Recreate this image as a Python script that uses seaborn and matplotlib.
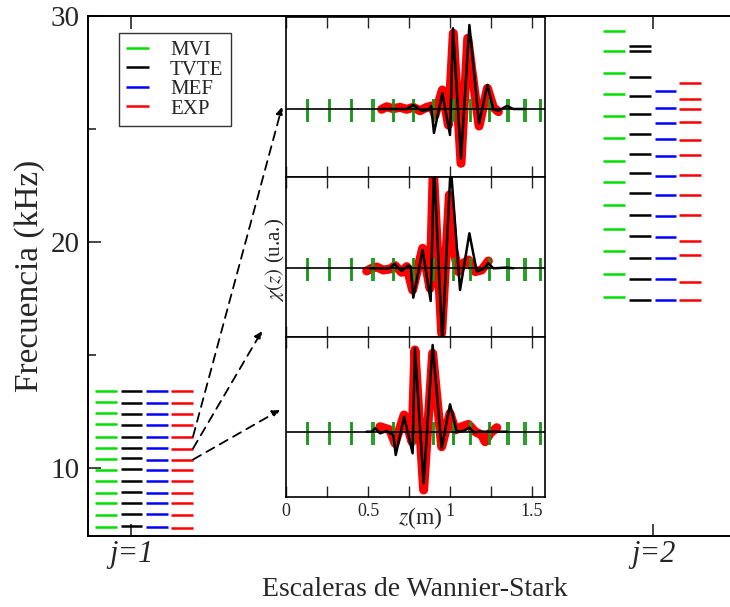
import matplotlib
matplotlib.use("Agg")
import numpy as np
import pandas as pd
import matplotlib.pyplot as plt
import seaborn as sns
from matplotlib.ticker import FixedLocator, NullLocator

# niveles de frecuencia (kHz) - escalera j=1
mvi_j1 = [13.40, 12.94, 12.43, 11.96, 11.40, 10.91, 10.40, 9.92, 9.44, 8.92, 8.45, 7.92, 7.42]
tvte_j1 = [13.42, 12.88, 12.40, 11.90, 11.40, 10.91, 10.43, 9.96, 9.44, 8.95, 8.48, 7.98, 7.45]
mef_j1 = [13.42, 12.88, 12.39, 11.90, 11.36, 10.90, 10.38, 9.91, 9.42, 8.92, 8.45, 7.98, 7.40]
exp_j1 = [13.42, 12.88, 12.39, 11.90, 11.40, 10.87, 10.38, 9.91, 9.42, 8.92, 8.45, 7.95, 7.36]

# escalera j=2
mvi_j2 = [29.35, 28.44, 27.46, 26.54, 25.56, 24.59, 23.60, 22.64, 21.62, 20.60, 19.59, 18.57, 17.55]
tvte_j2 = [28.66, 28.46, 27.29, 26.45, 25.65, 24.77, 23.91, 23.04, 22.15, 21.18, 20.25, 19.28, 18.35, 17.42]
mef_j2 = [26.67, 25.92, 25.25, 24.54, 23.79, 22.91, 22.07, 21.14, 20.21, 19.28, 18.35, 17.42]
exp_j2 = [27.02, 26.31, 25.87, 25.30, 24.50, 23.84, 22.96, 22.07, 21.18, 20.03, 19.41, 18.22, 17.42]

series_names = ["MVI", "TVTE", "MEF", "EXP"]
xtick_labels = ["j=1", "j=2"]

# posiciones de los resonadores (m)
resonadores = [0.132, 0.264, 0.398, 0.530, 0.654, 0.778, 0.898, 1.020, 1.126, 1.240, 1.352, 1.457, 1.551]

# funciones de onda chi(z), tres modos (u.a.)
z_teo_1 = [0.573, 0.736, 0.776, 0.827, 0.868, 0.885, 0.902, 0.953, 1.000, 1.018, 1.067, 1.118, 1.177, 1.228, 1.264, 1.295, 1.346, 1.386, 1.457]
chi_teo_1 = [0, 0, 4, -1.7, -1, 3, -24, 15.7, -26, 80.7, -49.3, 84, -14.3, 24, -0.3, -1.7, 3, 0, 0]
z_exp_1 = [0.583, 0.614, 0.654, 0.695, 0.736, 0.776, 0.817, 0.858, 0.888, 0.909, 0.953, 0.990, 1.020, 1.067, 1.108, 1.177, 1.228, 1.264, 1.295]
chi_exp_1 = [-0.3, 2.3, 0.3, 1.7, -0.3, 1.7, -1.7, 1.7, 3, -6, 19, -16, 75.7, -54.3, 70.7, -17, 20.7, 1.7, -2.7]

z_teo_2 = [0.512, 0.634, 0.661, 0.705, 0.746, 0.760, 0.776, 0.833, 0.882, 0.902, 0.953, 1.004, 1.061, 1.118, 1.163, 1.203, 1.234, 1.264, 1.346, 1.386]
chi_teo_2 = [0, 0, 4.3, -2.7, 2.7, 1.7, -29.4, 18.3, -32.7, 103, -73.4, 103, -21.7, 35, -3.3, -0.7, 5, 0, 0.7, 0]
z_exp_2 = [0.492, 0.522, 0.553, 0.593, 0.634, 0.665, 0.705, 0.736, 0.772, 0.833, 0.878, 0.898, 0.949, 0.996, 1.020, 1.051, 1.081, 1.112, 1.153, 1.193, 1.234]
chi_exp_2 = [-2.7, 0, 1.3, -1.7, -0.7, 2.7, -4, 1.7, -21.7, 20, -20, 100, -65, 73.3, 20, -3.3, 5, 8.3, -3.3, -1.7, 7.3]

z_teo_3 = [0.492, 0.522, 0.543, 0.573, 0.614, 0.654, 0.669, 0.720, 0.772, 0.786, 0.839, 0.894, 0.949, 1.000, 1.041, 1.081, 1.118, 1.146, 1.183, 1.346]
chi_teo_3 = [0, 0, 3.4, -1.6, 0.7, -3.3, -23.3, 15, -21.6, 83.4, -51.6, 86.7, -16.6, 27.4, 0, 0.7, 4, -0.6, 0, 0]
z_exp_3 = [0.573, 0.604, 0.634, 0.665, 0.720, 0.768, 0.786, 0.839, 0.894, 0.949, 1.000, 1.031, 1.071, 1.112, 1.153, 1.193, 1.214, 1.244, 1.285]
chi_exp_3 = [5, 3.4, 1.7, -11.6, 16.7, -10, 81.7, -58.3, 78.4, -15, 18.4, 1.7, 5, 7.3, 0, -3.3, -10, -1.7, 4]

inset_ticks = [0, 0.5, 1, 1.5]
inset_tick_labels = ["0", "0.5", "1", "1.5"]

sns.set_theme(style="ticks")
plt.rcParams["font.family"] = ["Liberation Serif", "DejaVu Serif"]
plt.rcParams["mathtext.fontset"] = "stix"

colors = ["#00e000", "black", "#0000ff", "#ff0000"]
off_j1 = [-0.049, 0.0, 0.049, 0.097]
off_j2 = [-0.074, -0.025, 0.024, 0.071]
hw = 0.021

fig = plt.figure(figsize=(7.3, 6.07), dpi=100)
ax = fig.add_axes([88 / 730, 71 / 607, 672 / 730, 520 / 607])

j1 = [mvi_j1, tvte_j1, mef_j1, exp_j1]
j2 = [mvi_j2, tvte_j2, mef_j2, exp_j2]
for k in range(4):
    ax.hlines(j1[k], 1 + off_j1[k] - hw, 1 + off_j1[k] + hw, color=colors[k], lw=1.8, label=series_names[k])
    ax.hlines(j2[k], 2 + off_j2[k] - hw, 2 + off_j2[k] + hw, color=colors[k], lw=1.8)

ax.set_xlim(0.9166, 1 + (760 - 131.5) / 521.5)
ax.set_ylim(7, 30)
ax.xaxis.set_major_locator(FixedLocator([1, 2]))
ax.set_xticklabels(xtick_labels, fontstyle="italic", fontsize=22)
ax.yaxis.set_major_locator(FixedLocator([10, 20, 30]))
ax.yaxis.set_minor_locator(FixedLocator([15, 25]))
ax.tick_params(axis="both", which="both", direction="in", top=True, right=False, width=1.2)
ax.tick_params(axis="both", which="major", length=9)
ax.tick_params(axis="both", which="minor", length=6)
ax.tick_params(axis="y", labelsize=21, pad=6)
ax.tick_params(axis="x", pad=3)
for s in ax.spines.values():
    s.set_linewidth(1.4)
    s.set_color("black")
ax.set_ylabel("Frecuencia (kHz)", fontsize=24, labelpad=4)
ax.set_xlabel("Escaleras de Wannier-Stark", fontsize=20)
ax.xaxis.set_label_coords((415 - 88) / 672, -0.079)

leg = ax.legend(loc="upper left", bbox_to_anchor=(0.046, 0.967), borderaxespad=0,
                fontsize=15, frameon=True, fancybox=False, edgecolor="black",
                handlelength=1.1, handletextpad=1.0, labelspacing=0.0, borderpad=0.35)
leg.get_frame().set_linewidth(1.0)

# flechas desde los niveles EXP hasta los paneles
heads = [(282 / 730, 1 - 107 / 607), (262 / 730, 1 - 331 / 607), (280 / 730, 1 - 410 / 607)]
for idx, head in zip([4, 5, 6], heads):
    ax.annotate("", xy=head, xycoords="figure fraction",
                xytext=(1 + off_j1[3] + hw, exp_j1[idx]), textcoords="data",
                arrowprops=dict(arrowstyle="-|>", linestyle=(0, (5, 3.5)), lw=1.3,
                                color="black", mutation_scale=11, shrinkA=0, shrinkB=0))

# paneles con las funciones de onda
teo = [(z_teo_1, chi_teo_1), (z_teo_2, chi_teo_2), (z_teo_3, chi_teo_3)]
exp = [(z_exp_1, chi_exp_1), (z_exp_2, chi_exp_2), (z_exp_3, chi_exp_3)]
ylims = [(-68, 92), (-68.7, 91.3), (-65.3, 94.7)]
bottoms = [430, 270, 110]
for i in range(3):
    axp = fig.add_axes([286 / 730, bottoms[i] / 607, 259 / 730, 160 / 607])
    axp.set_facecolor("white")
    df_exp = pd.DataFrame({"z": exp[i][0], "chi": exp[i][1]})
    df_teo = pd.DataFrame({"z": teo[i][0], "chi": teo[i][1]})
    sns.lineplot(data=df_exp, x="z", y="chi", ax=axp, color="red", lw=6.5,
                 sort=False, estimator=None, solid_joinstyle="round", solid_capstyle="round", zorder=1)
    for p in resonadores:
        axp.vlines([p - 0.0045, p + 0.0045], -13, 10, color="#169616", lw=1.3, zorder=2)
    axp.axhline(0, color="black", lw=1.2, zorder=3)
    sns.lineplot(data=df_teo, x="z", y="chi", ax=axp, color="black", lw=1.8,
                 sort=False, estimator=None, zorder=4)
    axp.set_xlim(0, 1.579)
    axp.set_ylim(*ylims[i])
    axp.set_xlabel("")
    axp.set_ylabel("")
    axp.xaxis.set_major_locator(FixedLocator(inset_ticks))
    axp.xaxis.set_minor_locator(FixedLocator([0.25, 0.75, 1.25]))
    axp.yaxis.set_major_locator(NullLocator())
    axp.tick_params(axis="x", which="both", direction="in", top=True, bottom=True,
                    length=8, width=1.0, labelsize=13, pad=4)
    for s in axp.spines.values():
        s.set_linewidth(1.2)
        s.set_color("black")
    if i < 2:
        axp.tick_params(axis="x", labelbottom=False)
    else:
        axp.set_xticklabels(inset_tick_labels)

fig.text(420 / 730, 1 - 518 / 607, r"$z$(m)", ha="center", va="center", fontsize=17)
fig.text(275 / 730, 1 - 260 / 607, r"$\chi(z)$ (u.a.)", ha="center", va="center",
         rotation=90, fontsize=15)

fig.savefig("out.png", dpi=100)
